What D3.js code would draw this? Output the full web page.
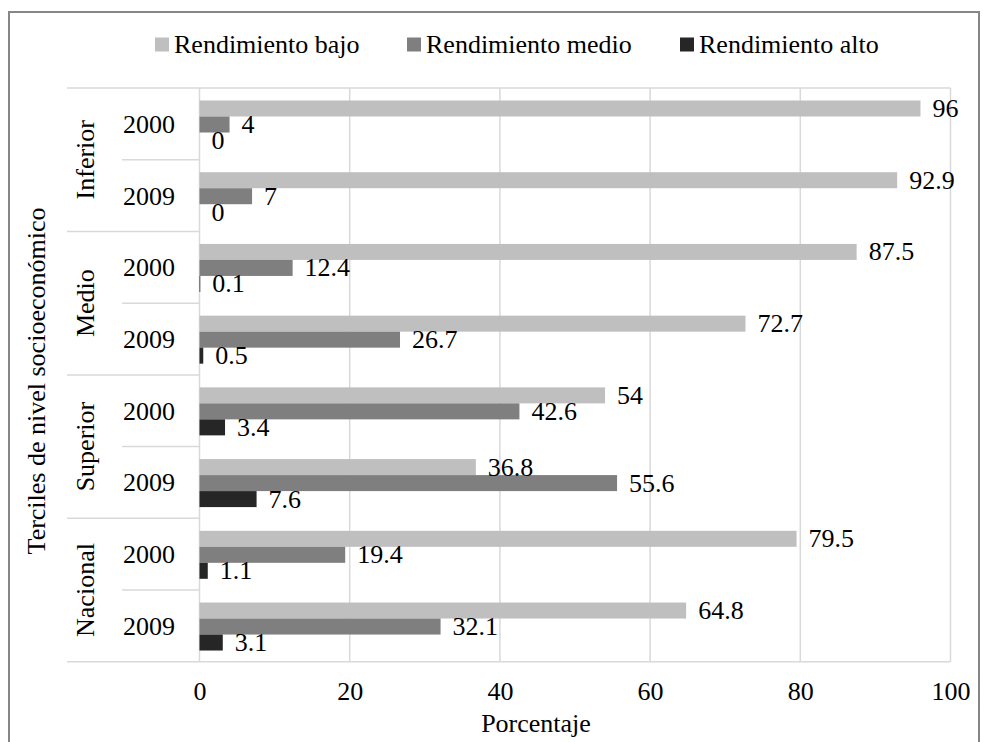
<!DOCTYPE html>
<html>
<head>
<meta charset="utf-8">
<script src="https://cdn.jsdelivr.net/npm/d3@7"></script>
<style>
  html, body { margin: 0; padding: 0; background: #fff; }
  svg { display: block; }
  text { font-family: "Liberation Serif", "Times New Roman", serif; fill: #000; }
</style>
</head>
<body>
<svg id="chart" width="983" height="742"></svg>
<script>
// Terciles de nivel socioeconómico, 2000 vs 2009
const groups = ["Inferior", "Medio", "Superior", "Nacional"];
const years = ["2000", "2009"];
const seriesNames = ["Rendimiento bajo", "Rendimiento medio", "Rendimiento alto"];
const bajo  = [96, 92.9, 87.5, 72.7, 54, 36.8, 79.5, 64.8];
const medio = [4, 7, 12.4, 26.7, 42.6, 55.6, 19.4, 32.1];
const alto  = [0, 0, 0.1, 0.5, 3.4, 7.6, 1.1, 3.1];
const xTicks = [0, 20, 40, 60, 80, 100];

const colors = ["#bfbfbf", "#7f7f7f", "#262626"];
const series = [bajo, medio, alto];

const svg = d3.select("#chart");
const fs = 26;

// outer frame
svg.append("rect")
  .attr("x", 9).attr("y", 12).attr("width", 970).attr("height", 760)
  .attr("fill", "#fff").attr("stroke", "#868686").attr("stroke-width", 2);

const plot = { left: 199.5, right: 950.5, top: 88, bottom: 661.75 };

const x = d3.scaleLinear().domain([0, 100]).range([plot.left, plot.right]);

// one row per (group, year)
const rows = [];
groups.forEach(g => years.forEach(yr => rows.push({ group: g, year: yr })));
rows.forEach((r, i) => { r.key = i; });

const y = d3.scaleBand().domain(d3.range(rows.length)).range([plot.top, plot.bottom]).padding(0);
const inner = d3.scaleBand().domain(d3.range(series.length)).range([12.5, 60.5]).padding(0);

// vertical gridlines
svg.append("g")
  .selectAll("line")
  .data(xTicks)
  .join("line")
  .attr("x1", d => x(d)).attr("x2", d => x(d))
  .attr("y1", plot.top).attr("y2", plot.bottom)
  .attr("stroke", "#d9d9d9").attr("stroke-width", 1.5);

// top and bottom frame lines of the category axis
[plot.top, plot.bottom].forEach(yy => {
  svg.append("line")
    .attr("x1", 67).attr("x2", plot.right)
    .attr("y1", yy).attr("y2", yy)
    .attr("stroke", "#d9d9d9").attr("stroke-width", 1.5);
});

// category separators: between groups (long) and between years (short)
const sepG = svg.append("g");
for (let i = 1; i < rows.length; i++) {
  const yy = y(i);
  const betweenGroups = i % years.length === 0;
  sepG.append("line")
    .attr("x1", betweenGroups ? 67 : 122).attr("x2", plot.left)
    .attr("y1", yy).attr("y2", yy)
    .attr("stroke", "#d9d9d9").attr("stroke-width", 1.5);
}

// bars
const barsG = svg.append("g");
series.forEach((vals, s) => {
  barsG.selectAll(null)
    .data(rows)
    .join("rect")
    .attr("x", x(0))
    .attr("y", d => y(d.key) + inner(s))
    .attr("width", d => x(vals[d.key]) - x(0))
    .attr("height", inner.bandwidth())
    .attr("fill", colors[s]);
});

// value labels
const labG = svg.append("g").attr("font-size", fs);
series.forEach((vals, s) => {
  labG.selectAll(null)
    .data(rows)
    .join("text")
    .attr("x", d => x(vals[d.key]) + 12)
    .attr("y", d => y(d.key) + inner(s) + inner.bandwidth() / 2 + 8.5)
    .text(d => String(vals[d.key]));
});

// year labels
svg.append("g").attr("font-size", fs)
  .selectAll("text")
  .data(rows)
  .join("text")
  .attr("x", 149)
  .attr("y", d => y(d.key) + y.bandwidth() / 2 + 9)
  .attr("text-anchor", "middle")
  .text(d => d.year);

// group labels (rotated)
svg.append("g").attr("font-size", fs)
  .selectAll("text")
  .data(groups)
  .join("text")
  .attr("transform", (g, i) => {
    const cy = (y(i * years.length) + y(i * years.length + years.length - 1) + y.bandwidth()) / 2;
    return `translate(94,${cy}) rotate(-90)`;
  })
  .attr("text-anchor", "middle")
  .text(d => d);

// x axis tick labels
const xAxis = d3.axisBottom(x).tickValues(xTicks).tickSize(0).tickPadding(0).tickFormat(d3.format("d"));
const xa = svg.append("g").attr("transform", `translate(0,${plot.bottom})`).call(xAxis);
xa.select(".domain").remove();
xa.selectAll("text")
  .attr("font-size", fs)
  .attr("dy", null)
  .attr("y", 38);

// axis titles
svg.append("text")
  .attr("x", 536).attr("y", 732)
  .attr("text-anchor", "middle").attr("font-size", fs)
  .text("Porcentaje");

svg.append("text")
  .attr("transform", "translate(45,381) rotate(-90)")
  .attr("text-anchor", "middle").attr("font-size", fs)
  .text("Terciles de nivel socioeconómico");

// legend
const legendX = [155, 407, 680];
const lg = svg.append("g").attr("font-size", fs);
seriesNames.forEach((name, i) => {
  lg.append("rect")
    .attr("x", legendX[i]).attr("y", 37.5)
    .attr("width", 14).attr("height", 14)
    .attr("fill", colors[i]);
  lg.append("text")
    .attr("x", legendX[i] + 19).attr("y", 53)
    .text(name);
});
</script>
</body>
</html>
